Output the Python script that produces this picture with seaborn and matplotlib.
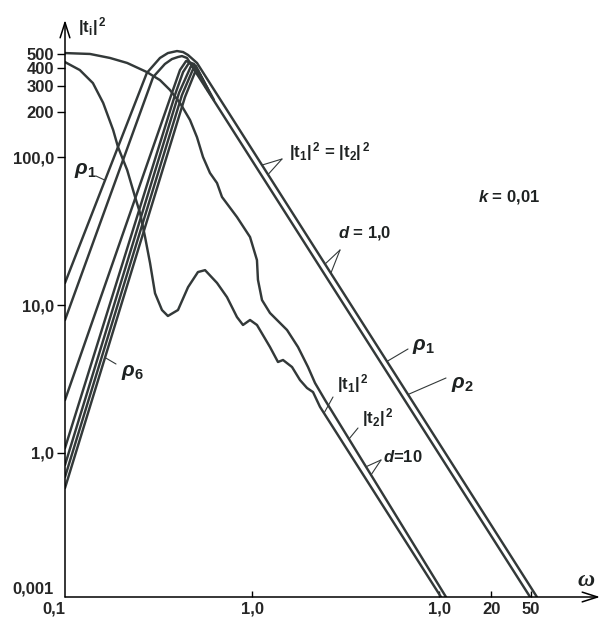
import numpy as np
import pandas as pd
import matplotlib
matplotlib.use("Agg")
import matplotlib.pyplot as plt
from matplotlib.ticker import NullLocator
import seaborn as sns

# |t|^2 against omega (log-log axes)
rho1_w = [0.1, 0.274, 0.322, 0.355, 0.397, 0.428, 0.455, 0.508, 33.4]
rho1_t = [14.1, 370, 467, 504, 520, 512, 489, 432, 0.1064]
rho2_w = [0.1, 0.296, 0.342, 0.373, 0.402, 0.422, 0.449, 0.496, 30.7]
rho2_t = [7.92, 347, 425, 459, 474, 481, 467, 381, 0.1064]
rho3_w = [0.1, 0.378, 0.412, 0.444, 0.490, 0.568]
rho3_t = [2.28, 284, 387, 445, 425, 293]
rho4_w = [0.1, 0.392, 0.428, 0.460, 0.502, 0.582]
rho4_t = [1.08, 275, 375, 432, 412, 279]
rho5_w = [0.1, 0.407, 0.472, 0.514, 0.596]
rho5_t = [0.830, 271, 412, 387, 267]
rho6_w = [0.1, 0.422, 0.484, 0.527, 0.611]
rho6_t = [0.688, 262, 393, 364, 254]
rho7_w = [0.1, 0.438, 0.496, 0.540, 0.626]
rho7_t = [0.580, 254, 375, 342, 243]

# |t2|^2, d=10
t2_w = [0.1, 0.136, 0.174, 0.215, 0.274, 0.322, 0.364, 0.412, 0.466, 0.508,
        0.547, 0.596, 0.650, 0.691, 0.831, 0.976, 1.063, 1.076, 1.131, 1.248,
        1.539, 1.762, 1.993, 2.173, 2.457, 10.9]
t2_t = [504, 497, 467, 432, 375, 331, 284, 232, 178, 136,
        100, 78.0, 66.7, 53.7, 39.3, 28.8, 20.1, 14.8, 10.8, 8.83,
        6.78, 5.20, 3.81, 2.97, 2.28, 0.1064]

# |t1|^2, d=10
t1_w = [0.1, 0.120, 0.141, 0.160, 0.181, 0.192, 0.215, 0.237, 0.252, 0.268,
        0.285, 0.303, 0.330, 0.355, 0.402, 0.455, 0.514, 0.561, 0.650, 0.735,
        0.831, 0.895, 0.976, 1.063, 1.248, 1.377, 1.465, 1.637, 1.806, 1.968,
        2.120, 2.310, 10.25]
t1_t = [438, 387, 316, 232, 152, 117, 81.7, 53.7, 41.8, 28.8,
        19.2, 12.0, 9.25, 8.43, 9.25, 13.2, 16.7, 17.2, 14.1, 11.3,
        8.29, 7.33, 7.92, 7.33, 5.20, 4.12, 4.25, 3.81, 3.11, 2.75,
        2.58, 2.05, 0.1064]

x_ticks = [0.1, 1, 10, 19, 31]
x_labels = ['0,1', '1,0', '1,0', '20', '50']
y_ticks = [0.1064, 1, 10, 100, 200, 300, 400, 500]
y_labels = ['0,001', '1,0', '10,0', '100,0', '200', '300', '400', '500']

curves = {
    'rho1': (rho1_w, rho1_t), 'rho2': (rho2_w, rho2_t), 'rho3': (rho3_w, rho3_t),
    'rho4': (rho4_w, rho4_t), 'rho5': (rho5_w, rho5_t), 'rho6': (rho6_w, rho6_t),
    'rho7': (rho7_w, rho7_t), 't1': (t1_w, t1_t), 't2': (t2_w, t2_t),
}
rows = []
for name, (w, t) in curves.items():
    rows += [(name, a, b) for a, b in zip(w, t)]
df = pd.DataFrame(rows, columns=['curve', 'omega', 'tt'])

sns.set_style('white')
plt.rcParams['font.family'] = ['Liberation Sans', 'DejaVu Sans']
plt.rcParams['font.weight'] = 'bold'
plt.rcParams['mathtext.fontset'] = 'custom'
plt.rcParams['mathtext.rm'] = 'Liberation Sans:bold'
plt.rcParams['mathtext.it'] = 'Liberation Sans:italic:bold'
plt.rcParams['mathtext.bf'] = 'Liberation Sans:bold'

ink = '#333939'
fig = plt.figure(figsize=(6.01, 6.17), dpi=100)
ax = fig.add_axes([65 / 601, 20 / 617, 535 / 601, 577 / 617])
ax.set(xscale='log', yscale='log')
sns.lineplot(data=df, x='omega', y='tt', units='curve', estimator=None,
             sort=False, color=ink, lw=1.75, ax=ax)
ax.set_xlim(0.1, 72.6)
ax.set_ylim(0.1064, 843)
ax.set_xlabel('')
ax.set_ylabel('')

ax.set_xticks(x_ticks, x_labels)
ax.set_yticks(y_ticks, y_labels)
ax.xaxis.set_minor_locator(NullLocator())
ax.yaxis.set_minor_locator(NullLocator())
ax.tick_params(axis='y', left=True, direction='out', length=6, width=1,
               pad=2, labelsize=12, color='black')
ax.tick_params(axis='x', bottom=True, direction='in', length=4, width=1,
               pad=3.5, labelsize=12, color='black')
ax.xaxis.get_major_ticks()[0].tick1line.set_visible(False)
ax.yaxis.get_major_ticks()[0].tick1line.set_visible(False)
ax.get_xticklabels()[0].set_ha('right')
ax.get_yticklabels()[0].set_va('bottom')

for sp in ax.spines.values():
    sp.set_visible(False)
arrow = dict(arrowstyle='->,head_length=1.1,head_width=0.35', lw=1.1,
             color='black', shrinkA=0, shrinkB=0)
ax.annotate('', xy=(1, 0), xytext=(0, 0), xycoords='axes fraction', arrowprops=arrow)
ax.annotate('', xy=(0, 1), xytext=(0, 0), xycoords='axes fraction', arrowprops=arrow)


def frac(xp, yp):
    # label layout in the reference's pixel frame -> axes fraction
    return ((xp - 65) / 535, (597 - yp) / 577)


def on(name, w):
    cw, ct = curves[name]
    return (w, 10 ** np.interp(np.log10(w), np.log10(cw), np.log10(ct)))


def label(xp, yp, s, **kw):
    kw.setdefault('fontsize', 12)
    kw.setdefault('va', 'center')
    ax.text(*frac(xp, yp), s, transform=ax.transAxes, color='#1e2222', **kw)


def leader(xp, yp, name, w):
    ax.annotate('', xy=on(name, w), xycoords='data', xytext=frac(xp, yp),
                textcoords='axes fraction',
                arrowprops=dict(arrowstyle='-', lw=0.8, color=ink, shrinkA=0, shrinkB=0))


label(78, 27, r'|t$_\mathrm{i}$|$^{\,2}$')
label(586, 581, 'ω', family='Liberation Serif', style='italic', fontsize=17, ha='center')
label(478, 197, r'$k$ = 0,01')

label(289, 152, r'|t$_1$|$^{\,2}$ = |t$_2$|$^{\,2}$')
leader(282, 159, 'rho1', 1.131)
leader(282, 159, 'rho1', 1.218)

label(338, 233, r'$d$ = 1,0')
leader(340, 250, 'rho1', 2.457)
leader(340, 250, 'rho1', 2.64)

label(423, 346, r'$\rho_1$', fontsize=15, ha='center')
leader(408, 349, 'rho1', 5.27)
label(462, 384, r'$\rho_2$', fontsize=15, ha='center')
leader(446, 378, 'rho1', 6.83)

label(337, 384, r'|t$_1$|$^{\,2}$')
leader(333, 397, 't1', 2.427)
label(362, 418, r'|t$_2$|$^{\,2}$')
leader(358, 428, 't2', 3.30)
label(383, 457, r'$d$=10')
leader(381, 460, 't2', 4.07)
leader(381, 460, 't2', 4.33)

label(85, 171, r'$\rho_1$', fontsize=15, ha='center')
leader(96, 176, 'rho1', 0.1637)
label(132, 373, r'$\rho_6$', fontsize=15, ha='center')
leader(116, 364, 'rho7', 0.1637)

fig.savefig('out.png', dpi=100)
